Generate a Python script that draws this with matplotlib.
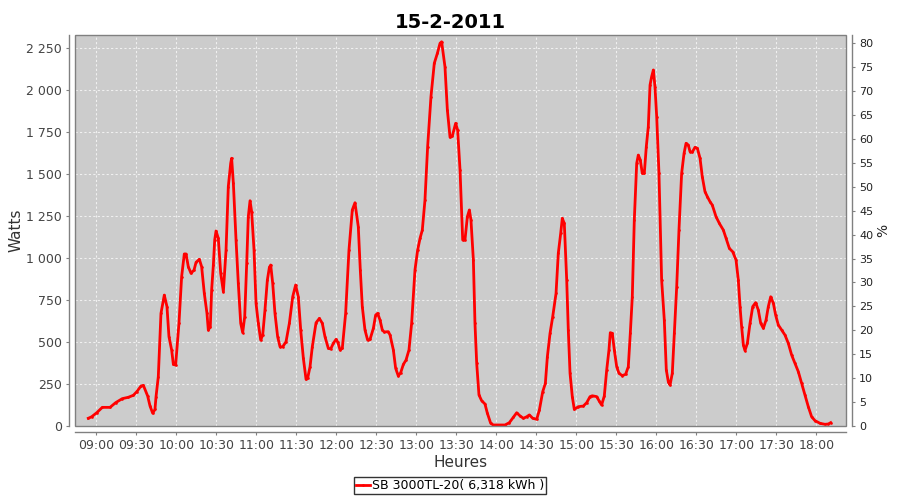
import numpy as np
import matplotlib
matplotlib.use("Agg")
import matplotlib.pyplot as plt
from matplotlib.patches import Rectangle

# minutes after 09:00 and power in watts
minutes = [-6, -3.5, 0.3, 4.5, 10.3, 14.5, 19.5, 24, 27.8, 30.3, 33.5, 35.3, 38.5, 40.3, 42.3, 44, 44.8,
           46.5, 48.5, 51, 53, 54.5, 56.5, 57.8, 59.5, 62, 64, 66, 67.3, 69, 71, 73.3, 74.8, 77.3, 79,
           81, 83, 84, 85.5, 86.5, 87.8, 88.8, 89.8, 91.5, 93.3, 95.3, 97.3, 99, 100.8, 101.5, 102.8,
           104.8, 106.5, 108.3, 109.8, 111.3, 112.8, 114, 115.3, 116.5, 118.3, 119.8, 121.5, 123.3,
           124.8, 126.5, 128.3, 129.8, 130.8, 132.3, 134, 136, 137.8, 139.8, 142.3, 144.8, 147.3,
           149.5, 151.5, 153.3, 155.3, 157.3, 158.5, 160.3, 162, 164.8, 167.3, 169.5, 171.5, 174,
           175.8, 177.8, 179.8, 181.2, 182.8, 184.5, 187, 189.5, 192, 194, 196.5, 198, 199.5, 201.5,
           203.5, 205.3, 207.8, 209.5, 211, 212.8, 214.5, 216, 219, 220.3, 222.8, 224.5, 226.5, 228.3,
           230.3, 232.3, 234.5, 236.5, 239, 241, 242.8, 244.5, 246.5, 248.5, 251, 253.5, 255.8, 257.8,
           259, 261.5, 263.3, 265.3, 267, 269.5, 271, 272.8, 274.8, 276.5, 278.3, 279.8, 281, 282.8,
           284, 285.3, 287, 289, 291.5, 293.3, 295.8, 297.8, 301.5, 306.5, 309.8, 312.8, 315.3, 317.8,
           320.3, 322.8, 324.8, 327.3, 330.3, 332.3, 334.8, 336.8, 338.3, 340.3, 342.3, 344.8, 346.5,
           348.3, 349.5, 351, 352.8, 354, 355.3, 357, 358.5, 361.5, 365.3, 367.8, 370.3, 372, 375.3,
           377, 379, 381, 382.8, 384.5, 385.5, 387, 388.5, 390.3, 392, 394.5, 397, 399, 400.5, 402,
           403.5, 405.3, 406.5, 408, 409.5, 411, 412.5, 414, 415.3, 416.5, 417.8, 419, 420.3, 422, 424,
           426, 427.5, 429, 430.3, 432, 433.5, 435.3, 437, 439, 440.8, 442.3, 444, 445.3, 447, 449,
           450.8, 452.8, 454.5, 456.5, 458.3, 460.3, 462, 464.8, 467.3, 470.3, 472.3, 474.8, 477.3,
           479.8, 481.5, 482.8, 484, 485.3, 486.5, 488.3, 490.3, 492.3, 494.5, 496.5, 498.3, 500.3,
           502.3, 504, 505.8, 507.8, 509.5, 511.5, 514, 516.5, 519, 521.5, 524, 526.5, 529, 531.5, 534,
           536.5, 539, 542.8, 546.5, 549, 550.8]
watts = [46, 55, 79, 111, 111, 139, 163, 171, 183, 204, 238, 242, 179, 119, 76, 99, 175,
         294, 671, 780, 711, 532, 453, 367, 363, 612, 890, 1025, 1025, 949, 910, 929, 975, 993, 949,
         790, 671, 572, 591, 810, 960, 1108, 1162, 1118, 910, 800, 1048, 1426, 1565, 1595, 1446,
         1108, 850, 612, 556, 651, 969, 1247, 1342, 1277, 1048, 731, 612, 512,
         542, 691, 870, 945, 959, 850, 671, 532, 472, 472, 502, 612, 770,
         840, 770, 572, 403, 278, 284, 353, 472, 615, 641, 612, 532, 463,
         459, 493, 516, 498, 453, 463, 671, 1048, 1287, 1330, 1187, 929, 711, 572,
         512, 516, 582, 661, 671, 631, 572, 560, 562, 542, 453, 344, 298, 318,
         367, 393, 453, 612, 929, 1048, 1118, 1167, 1346, 1664, 1962, 2161, 2220, 2280,
         2289, 2140, 1882, 1720, 1727, 1803, 1763, 1525, 1108, 1108, 1247, 1287, 1227, 989,
         612, 373, 185, 151, 131, 76, 16, 6, 6, 6, 20, 52, 79, 60,
         46, 55, 66, 46, 40, 95, 204, 254, 413, 552, 651, 790, 1029,
         1148, 1237, 1207, 870, 572, 314, 175, 99, 115, 119, 139, 175, 180, 175,
         151, 125, 179, 334, 453, 556, 552, 453, 353, 314, 300, 308, 353, 552, 770,
         1227, 1565, 1614, 1585, 1505, 1505, 1664, 1783, 2031, 2081, 2121, 2021, 1843, 1505, 870,
         631, 334, 264, 244, 314, 552, 830, 1167, 1505, 1624, 1684, 1674, 1634, 1632, 1660,
         1654, 1595, 1485, 1396, 1366, 1336, 1316, 1247, 1207, 1167, 1118, 1058, 1038,
         989, 870, 711, 591, 483, 449, 493, 612, 711, 735, 691, 612, 582,
         631, 711, 770, 731, 661, 602, 572, 542, 493, 423, 373, 324, 254, 185, 115,
         55, 32, 16, 10, 12, 20]

x_ticks = [9, 9.5, 10, 10.5, 11, 11.5, 12, 12.5, 13, 13.5, 14, 14.5, 15, 15.5, 16, 16.5, 17, 17.5, 18]
x_labels = ["09:00", "09:30", "10:00", "10:30", "11:00", "11:30", "12:00", "12:30", "13:00", "13:30",
            "14:00", "14:30", "15:00", "15:30", "16:00", "16:30", "17:00", "17:30", "18:00"]
y_ticks = [0, 250, 500, 750, 1000, 1250, 1500, 1750, 2000, 2250]
y_labels = ["0", "250", "500", "750", "1 000", "1 250", "1 500", "1 750", "2 000", "2 250"]
pct_ticks = list(range(0, 85, 5))

hours = 9 + np.array(minutes) / 60.0

fig = plt.figure(figsize=(9, 5), dpi=100)
ax = fig.add_axes([75 / 900, 1 - 426 / 500, 771 / 900, 391 / 500])
ax.set_facecolor("#cccccc")

ax.plot(hours, watts, color="#ff0000", lw=2, marker="s", markersize=0.8,
        label="SB 3000TL-20( 6,318 kWh )", zorder=3)

ax.set_xlim(9 - 21.3 / 80, 18 + 29.7 / 80)
ax.set_ylim(0, 2250 + 13.3 / 0.16787)
ax.set_xticks(x_ticks)
ax.set_xticklabels(x_labels)
ax.set_yticks(y_ticks)
ax.set_yticklabels(y_labels)
ax.grid(True, color="#f0f0f0", linestyle=(0, (2, 2)), linewidth=0.8)
ax.set_axisbelow(True)

ax2 = ax.twinx()
ax2.set_ylim(0, 80 + 8.3 / 4.784)
ax2.set_yticks(pct_ticks)

grey = "#808080"
for a in (ax, ax2):
    for s in a.spines.values():
        s.set_visible(False)
ax.spines["left"].set_visible(True)
ax.spines["left"].set_position(("outward", 4))
ax.spines["bottom"].set_visible(True)
ax.spines["bottom"].set_position(("outward", 4))
ax2.spines["right"].set_visible(True)
ax2.spines["right"].set_position(("outward", 4))
for s in (ax.spines["left"], ax.spines["bottom"], ax2.spines["right"]):
    s.set_color(grey)
    s.set_linewidth(1)

ax.add_patch(Rectangle((0, 0), 1, 1, transform=ax.transAxes, fill=False,
                       edgecolor=grey, lw=1, clip_on=False, zorder=5))

ax.tick_params(axis="both", colors=grey, labelcolor="#444444", labelsize=9, length=2.5, pad=3)
ax2.tick_params(axis="y", colors=grey, labelcolor="#222222", labelsize=8, length=2.5, pad=3)

ax.set_ylabel("Watts", fontsize=11, color="#333333", labelpad=2)
ax.set_xlabel("Heures", fontsize=11, color="#333333", labelpad=2)
ax2.set_ylabel("%", fontsize=10, color="#222222", labelpad=2)
fig.suptitle("15-2-2011", fontsize=14, fontweight="bold", y=0.975)

leg = fig.legend(loc="lower center", bbox_to_anchor=(0.5, 6 / 500), fontsize=9,
                 frameon=True, fancybox=False, handlelength=1.1, handletextpad=0.2,
                 borderpad=0.15, borderaxespad=0)
leg.get_frame().set_edgecolor("black")
leg.get_frame().set_linewidth(1)

fig.savefig("out.png", dpi=100)
